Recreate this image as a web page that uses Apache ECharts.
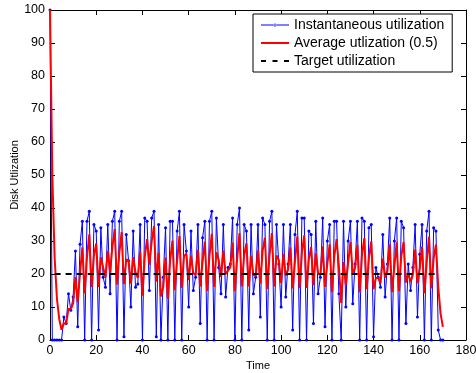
<!DOCTYPE html>
<html>
<head>
<meta charset="utf-8">
<script src="https://cdn.jsdelivr.net/npm/echarts@6/dist/echarts.min.js"></script>
<style>html,body{margin:0;padding:0;background:#fff;}#c{width:476px;height:373px;}</style>
</head>
<body>
<div id="c"></div>
<script>
// Instantaneous utilization, one sample per time unit starting at t = 0
const instantaneous = [100,0,0,0,0,0,7,5,14,9,13,27,4,29,36,0,36,39,0,35,
33,3,34,19,16,35,14,36,39,0,36,39,1,32,24,10,33,16,17,35,
0,37,36,15,37,39,1,35,0,19,34,0,36,36,0,33,39,0,35,27,
10,33,15,19,35,5,31,36,0,36,39,0,37,22,14,35,13,22,23,37,
0,35,40,0,35,33,3,35,14,19,35,7,37,35,0,36,39,0,35,23,
10,35,13,23,35,3,32,39,0,37,37,0,33,32,5,36,14,19,37,4,
30,35,0,36,36,14,0,36,10,30,36,11,23,36,0,37,36,0,34,35,
1,22,19,16,32,13,23,37,0,30,37,0,36,34,5,23,15,22,35,7,
26,35,0,33,39,0,34,33,3,0,0];
// Average utilization (0.5), read per time unit
const average = [100,50,25,12.5,6.3,3.1,5.1,5.0,9.5,9.3,11.1,19.1,11.5,20.3,28.1,14.1,25.0,32.0,16.0,25.5,
29.3,16.1,25.1,22.0,19.0,27.0,20.5,28.3,33.6,16.8,26.4,32.7,16.9,24.4,24.2,17.1,25.1,20.5,18.8,26.9,
13.4,25.2,30.6,22.8,29.9,34.5,17.7,26.4,13.2,16.1,25.0,12.5,24.3,30.1,15.1,24.0,31.5,15.8,25.4,26.2,
18.1,25.6,20.3,19.6,27.3,16.2,23.6,29.8,14.9,25.5,32.2,16.1,26.6,24.3,19.1,27.1,20.0,21.0,22.0,29.5,
14.8,24.9,32.4,16.2,25.6,29.3,16.2,25.6,19.8,19.4,27.2,17.1,27.1,31.0,15.5,25.8,32.4,16.2,25.6,24.3,
17.2,26.1,19.5,21.3,28.1,15.6,23.8,31.4,15.7,26.4,31.7,15.8,24.4,28.2,16.6,26.3,20.2,19.6,28.3,16.1,
23.1,29.0,14.5,25.3,30.6,22.3,11.2,23.6,16.8,23.4,29.7,20.4,21.7,28.8,14.4,25.7,30.9,15.4,24.7,29.9,
15.4,18.7,18.9,17.4,24.7,18.9,20.9,29.0,14.5,22.2,29.6,14.8,25.4,29.7,17.4,20.2,17.6,19.8,27.4,17.2,
21.6,28.3,14.2,23.6,31.3,15.6,24.8,28.9,16.0,8.0,4.0];
// Target utilization
const targetLevel = 20;
const targetSpan = [2, 168];
const xTicks = [0,20,40,60,80,100,120,140,160,180];
const yTicks = [0,10,20,30,40,50,60,70,80,90,100];
const legendNames = ['Instantaneous utilization','Average utlization (0.5)','Target utilization'];

const font = 'Liberation Sans, Arial, Helvetica, sans-serif';
const iconBlue = 'path://M0,1 L28,1 L28,2 L0,2 Z M12.5,1.5 A1.5,1.5 0 1,0 15.5,1.5 A1.5,1.5 0 1,0 12.5,1.5 Z';
const iconRed = 'path://M0,0 L28,0 L28,2 L0,2 Z';
const iconDash = 'path://M0,0 L5,0 L5,2 L0,2 Z M11.5,0 L16.5,0 L16.5,2 L11.5,2 Z M23,0 L28,0 L28,2 L23,2 Z';
const chart = echarts.init(document.getElementById('c'), null, {renderer:'canvas'});
const axisCommon = {
  axisLine:{show:true, onZero:false, lineStyle:{color:'#000', width:1}},
  axisTick:{show:true, inside:true, length:5, lineStyle:{color:'#000'}},
  splitLine:{show:false}
};
chart.setOption({
  animation:false,
  backgroundColor:'#fff',
  grid:{left:50, right:10, top:10, bottom:33, containLabel:false, outerBoundsMode:'none'},
  legend:{
    orient:'vertical', left:253, top:14,
    data:[
      {name:legendNames[0], icon:iconBlue},
      {name:legendNames[1], icon:iconRed},
      {name:legendNames[2], icon:iconDash}
    ],
    symbolKeepAspect:true,
    backgroundColor:'#fff', borderColor:'#000', borderWidth:1, borderRadius:0,
    padding:[4,8,4,8], itemGap:4, itemWidth:28, itemHeight:3,
    textStyle:{fontFamily:font, fontSize:14, color:'#000', padding:[0,0,0,0]}
  },
  xAxis:[
    Object.assign({type:'value', min:xTicks[0], max:xTicks[xTicks.length-1], interval:20, position:'bottom',
      name:'Time', nameLocation:'middle', nameGap:20, nameMoveOverlap:false,
      nameTextStyle:{fontFamily:font, fontSize:11, color:'#000'},
      axisLabel:{fontFamily:font, fontSize:12.5, color:'#000', margin:4}}, axisCommon),
    Object.assign({type:'value', min:xTicks[0], max:xTicks[xTicks.length-1], interval:20, position:'top',
      axisLabel:{show:false}}, axisCommon)
  ],
  yAxis:[
    Object.assign({type:'value', min:yTicks[0], max:yTicks[yTicks.length-1], interval:10, position:'left',
      name:'Disk Utlization', nameLocation:'middle', nameGap:30, nameRotate:90, nameMoveOverlap:false,
      nameTextStyle:{fontFamily:font, fontSize:11, color:'#000'},
      axisLabel:{fontFamily:font, fontSize:12.5, color:'#000', margin:5}}, axisCommon),
    Object.assign({type:'value', min:yTicks[0], max:yTicks[yTicks.length-1], interval:10, position:'right',
      axisLabel:{show:false}}, axisCommon)
  ],
  series:[
    {name:legendNames[0], type:'line', xAxisIndex:0, yAxisIndex:0,
     data:instantaneous.map((v,i)=>[i,v]),
     symbol:'circle', symbolSize:3, showSymbol:true,
     lineStyle:{color:'#0000ff', width:1}, itemStyle:{color:'#0000ff'}, z:2},
    {name:legendNames[1], type:'line', xAxisIndex:0, yAxisIndex:0,
     data:average.map((v,i)=>[i,v]),
     symbol:'none', lineStyle:{color:'#ff0000', width:2}, itemStyle:{color:'#ff0000'}, z:3},
    {name:legendNames[2], type:'line', xAxisIndex:0, yAxisIndex:0,
     data:targetSpan.map(t=>[t,targetLevel]),
     symbol:'none', lineStyle:{color:'#000', width:2, type:[6,5]}, itemStyle:{color:'#000'}, z:4}
  ]
});
</script>
</body>
</html>
